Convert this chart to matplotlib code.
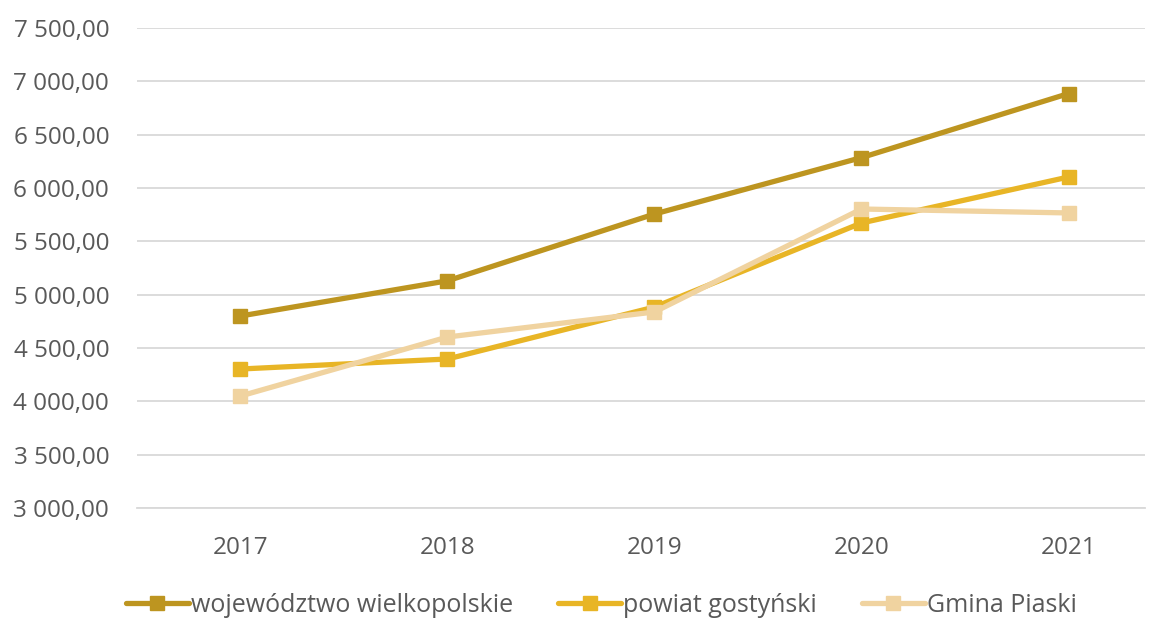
import matplotlib.pyplot as plt
from matplotlib.ticker import FuncFormatter

years = ['2017', '2018', '2019', '2020', '2021']
wojewodztwo = [4800, 5130, 5756, 6285, 6885]
powiat = [4303, 4397, 4884, 5672, 6103]
gmina = [4050, 4603, 4838, 5803, 5766]

series = [
    ('województwo wielkopolskie', wojewodztwo, '#BD9520'),
    ('powiat gostyński', powiat, '#E8B526'),
    ('Gmina Piaski', gmina, '#F0D3A0'),
]

plt.rcParams['font.family'] = ['Open Sans', 'DejaVu Sans']

fig = plt.figure(figsize=(11.59, 6.19), dpi=100)
ax = fig.add_axes([0.1182, 0.1793, 0.8698, 0.7755])

x = range(len(years))
for name, vals, col in series:
    ax.plot(x, vals, color=col, linewidth=3.8, marker='s', markersize=10.5,
            label=name, solid_capstyle='round')

ax.set_ylim(3000, 7500)
ax.set_yticks(range(3000, 7501, 500))
ax.yaxis.set_major_formatter(FuncFormatter(
    lambda v, p: '{:,.2f}'.format(v).replace(',', ' ').replace('.', ',')))
ax.set_xlim(-0.5, 4.37)
ax.set_xticks(list(x))
ax.set_xticklabels(years)
ax.grid(axis='y', color='#D9D9D9', linewidth=1.3)
ax.set_axisbelow(True)
for s in ax.spines.values():
    s.set_visible(False)
ax.spines['bottom'].set_visible(True)
ax.spines['bottom'].set_color('#D9D9D9')
ax.spines['bottom'].set_linewidth(1.3)
ax.tick_params(length=0, labelsize=17.5, labelcolor='#595959')
ax.tick_params(axis='x', pad=20)
ax.tick_params(axis='y', pad=20)

leg = fig.legend(loc='lower center', bbox_to_anchor=(0.519, -0.035), ncol=3,
                 frameon=False, fontsize=18, handlelength=2.5, handletextpad=0.1,
                 columnspacing=1.8)
for t in leg.get_texts():
    t.set_color('#595959')

fig.savefig('out.png', dpi=100)
